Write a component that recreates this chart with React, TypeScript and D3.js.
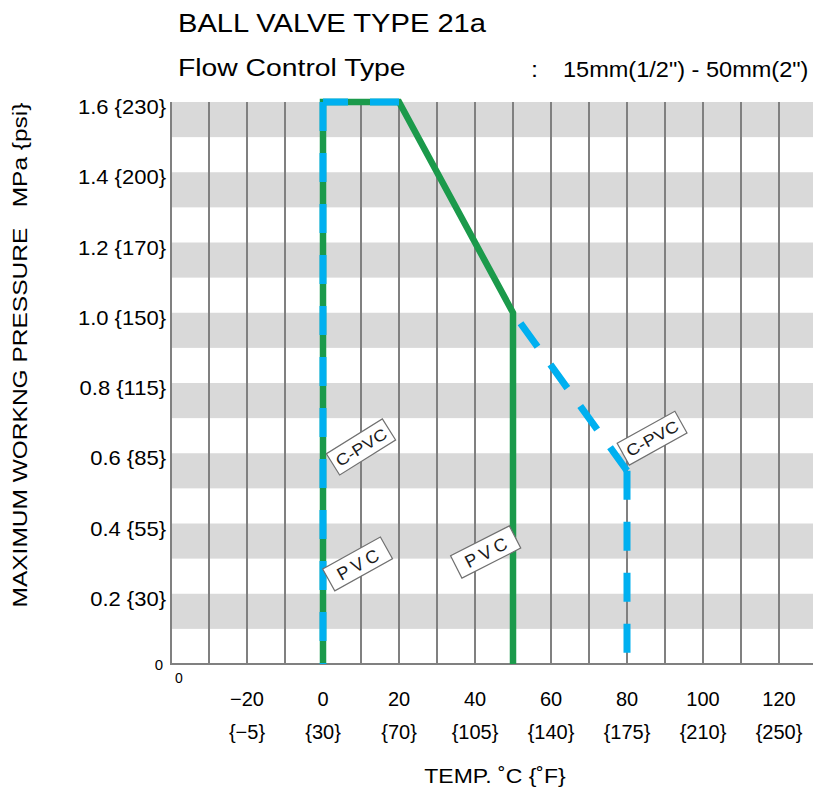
import React from "react";
import * as d3 from "d3";

// ---- data ----
const tempTicks = [-20, 0, 20, 40, 60, 80, 100, 120];
const fahrenheitLabels = ["{−5}", "{30}", "{70}", "{105}", "{140}", "{175}", "{210}", "{250}"];
const gridTemps = [-30, -20, -10, 0, 10, 20, 30, 40, 50, 60, 70, 80, 90, 100, 110, 120, 130];
const pressureTicks = [0.2, 0.4, 0.6, 0.8, 1.0, 1.2, 1.4, 1.6];
const psiLabels = ["{30}", "{55}", "{85}", "{115}", "{150}", "{170}", "{200}", "{230}"];
const bandStarts = [0.1, 0.3, 0.5, 0.7, 0.9, 1.1, 1.3, 1.5];

// PVC (solid green)
const pvcTemp = [0, 0, 20, 50, 50];
const pvcPressure = [0, 1.6, 1.6, 1.0, 0];

// C-PVC (dashed blue) – drawn as separate segments
const cpvcSegTemp = [
  [20, 0],
  [0, 0],
  [80, 50],
  [80, 80],
];
const cpvcSegPressure = [
  [1.6, 1.6],
  [1.6, 0],
  [0.55, 1.0],
  [0.55, 0],
];

const labelTexts = ["C-PVC", "PVC", "PVC", "C-PVC"];
const labelTemp = [10, 9.1, 42.8, 86.6];
const labelPressure = [0.618, 0.285, 0.319, 0.643];
const labelAngle = [-32, -29, -27, -29];

const FONT = "'Liberation Sans', Arial, sans-serif";

function SText(props: {
  x: number;
  y: number;
  sx?: number;
  rotate?: number;
  anchor?: string;
  size: number;
  children: React.ReactNode;
  fill?: string;
  letterSpacing?: number;
  family?: string;
}) {
  const { x, y, sx = 1, rotate = 0, anchor = "start", size, children, fill = "#000", letterSpacing, family } = props;
  return (
    <text
      transform={`translate(${x},${y}) rotate(${rotate}) scale(${sx},1)`}
      textAnchor={anchor}
      fontSize={size}
      fill={fill}
      fontFamily={family || FONT}
      letterSpacing={letterSpacing}
      style={{ whiteSpace: "pre" }}
    >
      {children}
    </text>
  );
}

export default function App() {
  const x = d3.scaleLinear().domain([-40, 130]).range([171, 817]);
  const y = d3.scaleLinear().domain([0, 1.6]).range([664, 102]);
  const left = x(-40);
  const right = 813;

  const line = d3
    .line<[number, number]>()
    .x((d) => x(d[0]))
    .y((d) => y(d[1]));

  const pvcPts: [number, number][] = pvcTemp.map((t, i) => [t, pvcPressure[i]]);

  const green = "#1b9a4b";
  const blue = "#00b0f0";
  const grid = "#808080";

  return (
    <svg
      width={813}
      height={789}
      style={{ position: "absolute", left: 0, top: 0, background: "#fff" }}
    >
      {/* bands */}
      {bandStarts.map((b) => (
        <rect
          key={b}
          x={left}
          y={y(b + 0.1)}
          width={right - left}
          height={y(b) - y(b + 0.1)}
          fill="#d9d9d9"
        />
      ))}
      {/* vertical grid */}
      {gridTemps.map((t) => (
        <line key={t} x1={x(t)} x2={x(t)} y1={y(1.6)} y2={y(0)} stroke={grid} strokeWidth={2} />
      ))}
      {/* axes */}
      <line x1={left} x2={left} y1={y(1.6)} y2={y(0)} stroke={grid} strokeWidth={2} />
      <line x1={left - 1} x2={right} y1={y(0)} y2={y(0)} stroke={grid} strokeWidth={2} />

      {/* PVC line */}
      <path d={line(pvcPts) || ""} fill="none" stroke={green} strokeWidth={6.5} strokeLinejoin="miter" />

      {/* C-PVC dashed segments */}
      {cpvcSegTemp.map((ts, i) => {
        const pts: [number, number][] = ts.map((t, j) => [t, cpvcSegPressure[i][j]]);
        return (
          <path
            key={i}
            d={line(pts) || ""}
            fill="none"
            stroke={blue}
            strokeWidth={7}
            strokeDasharray="29 22"
          />
        );
      })}

      {/* labels */}
      {labelTexts.map((txt, i) => {
        const cx = x(labelTemp[i]);
        const cy = y(labelPressure[i]);
        const isPvc = txt === "PVC";
        return (
          <g key={i} transform={`translate(${cx},${cy}) rotate(${labelAngle[i]})`}>
            <rect x={-33} y={-12.5} width={66} height={25} fill="#fff" stroke="#707070" strokeWidth={1.2} />
            <text
              x={0}
              y={isPvc ? 7 : 6}
              textAnchor="middle"
              fontFamily={FONT}
              fontSize={isPvc ? 18 : 16}
              letterSpacing={isPvc ? 4 : 0}
              transform={isPvc ? "translate(2,0)" : "scale(1.15,1)"}
              fill="#1a1a1a"
            >
              {txt}
            </text>
          </g>
        );
      })}

      {/* y tick labels */}
      {pressureTicks.map((p, i) => (
        <SText key={p} x={166} y={y(p) + 12} anchor="end" size={20} sx={1.1}>
          {`${p.toFixed(1)} ${psiLabels[i]}`}
        </SText>
      ))}
      <SText x={163} y={670} anchor="end" size={15}>0</SText>
      <SText x={179} y={683} anchor="middle" size={14}>0</SText>

      {/* x tick labels */}
      {tempTicks.map((t, i) => (
        <g key={t}>
          <SText x={x(t)} y={706} anchor="middle" size={20}>
            {t < 0 ? `−${Math.abs(t)}` : `${t}`}
          </SText>
          <SText x={x(t)} y={739} anchor="middle" size={20}>
            {fahrenheitLabels[i]}
          </SText>
        </g>
      ))}

      {/* axis titles */}
      <SText x={495} y={783} anchor="middle" size={20} sx={1.15}>
        {"TEMP. ˚C {˚F}"}
      </SText>
      <text
        transform="translate(27,355) rotate(-90)"
        textAnchor="middle"
        fontSize={21}
        fontFamily={FONT}
        textLength={505}
        lengthAdjust="spacingAndGlyphs"
        style={{ whiteSpace: "pre" }}
      >
        {"MAXIMUM WORKNG PRESSURE   MPa {psi}"}
      </text>

      {/* titles */}
      <SText x={178} y={32} size={25} sx={1.165}>BALL VALVE TYPE 21a</SText>
      <SText x={178} y={76} size={24} sx={1.18}>Flow Control Type</SText>
      <SText x={531} y={77} size={22} sx={1.15}>:</SText>
      <SText x={563} y={77} size={22} sx={1.07}>{'15mm(1/2") - 50mm(2")'}</SText>
    </svg>
  );
}
